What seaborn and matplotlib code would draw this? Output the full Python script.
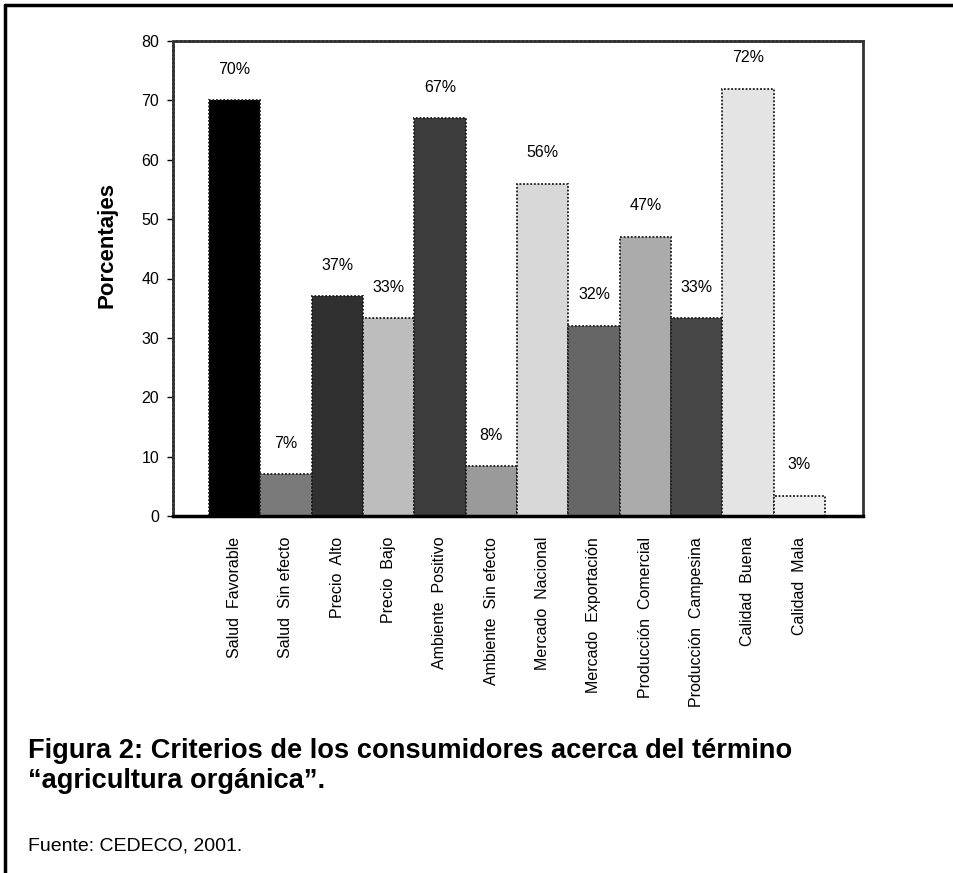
import matplotlib
matplotlib.use("Agg")
import matplotlib.pyplot as plt
from matplotlib.lines import Line2D
from matplotlib import font_manager
import seaborn as sns
import pandas as pd

categories = ["Salud  Favorable", "Salud  Sin efecto", "Precio  Alto", "Precio  Bajo",
              "Ambiente  Positivo", "Ambiente  Sin efecto", "Mercado  Nacional",
              "Mercado  Exportación", "Producción  Comercial", "Producción  Campesina",
              "Calidad  Buena", "Calidad  Mala"]
values = [70, 7, 37, 33.3, 67, 8.4, 56, 32, 47, 33.3, 72, 3.4]
labels = ["70%", "7%", "37%", "33%", "67%", "8%", "56%", "32%", "47%", "33%", "72%", "3%"]
colors = ["#000000", "#7a7a7a", "#303030", "#bdbdbd", "#3c3c3c", "#9a9a9a",
          "#d8d8d8", "#666666", "#ababab", "#474747", "#e4e4e4", "#efefef"]
yticks = [0, 10, 20, 30, 40, 50, 60, 70, 80]

sns.set_style("white")
avail = {f.name for f in font_manager.fontManager.ttflist}
narrow = "Liberation Sans Narrow" if "Liberation Sans Narrow" in avail else "Liberation Sans"
plt.rcParams["font.family"] = ["Liberation Sans", "DejaVu Sans"]
plt.rcParams["text.color"] = "black"
plt.rcParams["axes.labelcolor"] = "black"
plt.rcParams["xtick.color"] = "black"
plt.rcParams["ytick.color"] = "black"

df = pd.DataFrame({"cat": categories, "val": values})

fig = plt.figure(figsize=(9.54, 8.73), dpi=100)
ax = fig.add_axes([173/954, 1-516/873, 690/954, 475/873])
sns.barplot(data=df, x="cat", y="val", hue="cat", palette=colors, legend=False,
            width=1.0, ax=ax, saturation=1)
for p in ax.patches:
    p.set_edgecolor("#1a1a1a")
    p.set_linewidth(1.3)
    p.set_linestyle((0, (1, 1)))

ax.set_xlim(-1.2, 12.24)
ax.set_ylim(0, 80)
ax.set_yticks(yticks)
ax.set_yticklabels([str(t) for t in yticks], fontfamily=narrow, fontsize=11.5)
ax.tick_params(axis="y", length=4, width=1, direction="out", pad=6, left=True)
ax.tick_params(axis="x", length=0, pad=15)
ax.set_xticks(range(len(categories)))
ax.set_xticklabels(categories, rotation=90, fontfamily=narrow, fontsize=11.5, va="top")
ax.set_xlabel("")
ax.set_ylabel("Porcentajes", fontsize=16, fontweight="bold")
ax.yaxis.set_label_coords(-0.08, 0.57)

for i, (v, lab) in enumerate(zip(values, labels)):
    ax.annotate(lab, (i, v), xytext=(0, 17), textcoords="offset points",
                ha="center", va="bottom", fontfamily=narrow, fontsize=11.5)

for s in ["left", "top", "right"]:
    ax.spines[s].set_visible(True)
    ax.spines[s].set_color("#333333")
    ax.spines[s].set_linewidth(2)
ax.spines["top"].set_linestyle((0, (1, 0.5)))
ax.spines["left"].set_linestyle((0, (1, 0.5)))
ax.spines["bottom"].set_visible(True)
ax.spines["bottom"].set_color("#000000")
ax.spines["bottom"].set_linewidth(2.5)

# page frame
fig.add_artist(Line2D([5/954, 1], [1-5/873, 1-5/873], color="black", lw=2.5, transform=fig.transFigure))
fig.add_artist(Line2D([5/954, 5/954], [0, 1-5/873], color="black", lw=2.5, transform=fig.transFigure))

fig.text(28/954, 1-751/873, "Figura 2: Criterios de los consumidores acerca del término",
         fontsize=19.6, fontweight="bold", va="center", ha="left")
fig.text(28/954, 1-781/873, "\u201cagricultura orgánica\u201d.",
         fontsize=19.6, fontweight="bold", va="center", ha="left")
fig.text(28/954, 1-846/873, "Fuente: CEDECO, 2001.", fontsize=14, va="center", ha="left")

fig.savefig("out.png", dpi=100)
